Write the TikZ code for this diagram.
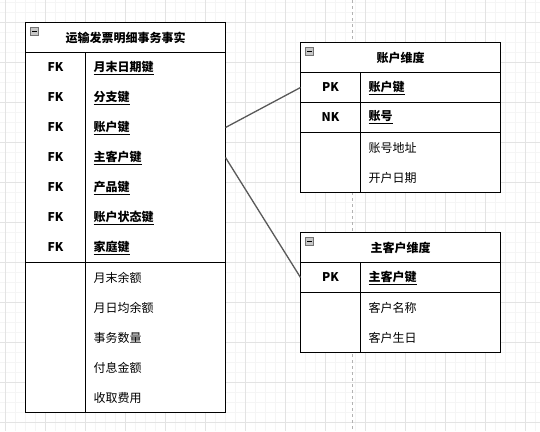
\documentclass[tikz,border=0pt]{standalone}
\usepackage{fontspec}
\setmainfont{Noto Sans CJK SC}
\begin{document}
\begin{tikzpicture}[x=1pt,y=-1pt,
  tbl/.style={draw=black,line width=1pt},
  tablebox/.style={draw=black,line width=1pt,fill=white,inner sep=0pt,outer sep=0pt},
  minorgrid/.style={draw=black!4,line width=0.8pt},
  majorgrid/.style={draw=black!11,line width=0.8pt},
  pagebreak/.style={draw=black!30,line width=0.8pt,dash pattern=on 3pt off 3pt},
  conn/.style={draw=black!65,line width=1.3pt},
  keytag/.style={font=\fontsize{12}{14}\selectfont\bfseries,inner sep=0pt,anchor=center},
  keyname/.style={font=\fontsize{12}{14}\selectfont\bfseries,inner sep=0pt,anchor=west},
  attr/.style={font=\fontsize{12}{14}\selectfont,inner sep=0pt,anchor=west},
  title/.style={font=\fontsize{12}{14}\selectfont\bfseries,inner sep=0pt,anchor=center},
  iconbox/.style={draw=black!55,fill=black!22,line width=0.8pt},
  iconminus/.style={draw=black,line width=1.2pt}
]
\useasboundingbox (0,0) rectangle (540,431);
\fill[white] (0,0) rectangle (540,431);
% grid
\foreach \i in {0,...,53} {\draw[minorgrid] ({5.7+10*\i},0) -- ({5.7+10*\i},431);}
\foreach \i in {0,...,43} {\draw[minorgrid] (0,{2.3+10*\i}) -- (540,{2.3+10*\i});}
\foreach \i in {0,...,13} {\draw[majorgrid] ({5.7+40*\i},0) -- ({5.7+40*\i},431);}
\foreach \i in {0,...,10} {\draw[majorgrid] (0,{22.3+40*\i}) -- (540,{22.3+40*\i});}
\draw[pagebreak] (352.3,0) -- (352.3,431);

% ---------- fact table ----------
\node[tablebox,minimum width=200pt,minimum height=390pt] (fact) at (125.5,217.5) {};
\draw[tbl] (25.5,52.5) -- (225.5,52.5);
\draw[tbl] (25.5,262.5) -- (225.5,262.5);
\draw[tbl] (85.5,52.5) -- (85.5,412.5);
\draw[iconbox] (30.5,27.5) rectangle (38.5,35.5);
\draw[iconminus] (32.2,31.5) -- (36.8,31.5);
\node[title] (factT) at (125.5,37.5) {运输发票明细事务事实};
\foreach \n/\t [count=\k from 0] in {fa/月末日期键,fb/分支键,fc/账户键,fd/主客户键,fe/产品键,ff/账户状态键,fg/家庭键} {
  \node[keytag] (\n k) at (55.5,{67.5+30*\k}) {FK};
  \node[keyname] (\n) at (93.5,{67.5+30*\k}) {\underline{\t}};
}
\foreach \n/\t [count=\k from 0] in {m1/月末余额,m2/月日均余额,m3/事务数量,m4/付息金额,m5/收取费用} {
  \node[attr] (\n) at (93.5,{277.5+30*\k}) {\t};
}
\coordinate (factAcc) at (225.5,127.5);
\coordinate (factCus) at (225.5,157.5);

% ---------- account dimension ----------
\node[tablebox,minimum width=200pt,minimum height=150pt] (acc) at (400.5,117.5) {};
\draw[tbl] (300.5,72.5) -- (500.5,72.5);
\draw[tbl] (300.5,102.5) -- (500.5,102.5);
\draw[tbl] (300.5,132.5) -- (500.5,132.5);
\draw[tbl] (360.5,72.5) -- (360.5,192.5);
\draw[iconbox] (305.5,47.5) rectangle (313.5,55.5);
\draw[iconminus] (307.2,51.5) -- (311.8,51.5);
\node[title] (accT) at (400.5,57.5) {账户维度};
\node[keytag] (apk) at (330.5,87.5) {PK};
\node[keyname] (apkn) at (368.5,87.5) {\underline{账户键}};
\node[keytag] (ank) at (330.5,117.5) {NK};
\node[keyname] (ankn) at (368.5,117.5) {\underline{账号}};
\node[attr] (aa1) at (368.5,147.5) {账号地址};
\node[attr] (aa2) at (368.5,177.5) {开户日期};
\coordinate (accIn) at (300.5,87.5);

% ---------- customer dimension ----------
\node[tablebox,minimum width=200pt,minimum height=120pt] (cus) at (400.5,292.5) {};
\draw[tbl] (300.5,262.5) -- (500.5,262.5);
\draw[tbl] (300.5,292.5) -- (500.5,292.5);
\draw[tbl] (360.5,262.5) -- (360.5,352.5);
\draw[iconbox] (305.5,237.5) rectangle (313.5,245.5);
\draw[iconminus] (307.2,241.5) -- (311.8,241.5);
\node[title] (cusT) at (400.5,247.5) {主客户维度};
\node[keytag] (cpk) at (330.5,277.5) {PK};
\node[keyname] (cpkn) at (368.5,277.5) {\underline{主客户键}};
\node[attr] (ca1) at (368.5,307.5) {客户名称};
\node[attr] (ca2) at (368.5,337.5) {客户生日};
\coordinate (cusIn) at (300.5,277.5);

% ---------- connectors ----------
\draw[conn] (factAcc) -- (accIn);
\draw[conn] (factCus) -- (cusIn);
\end{tikzpicture}
\end{document}
